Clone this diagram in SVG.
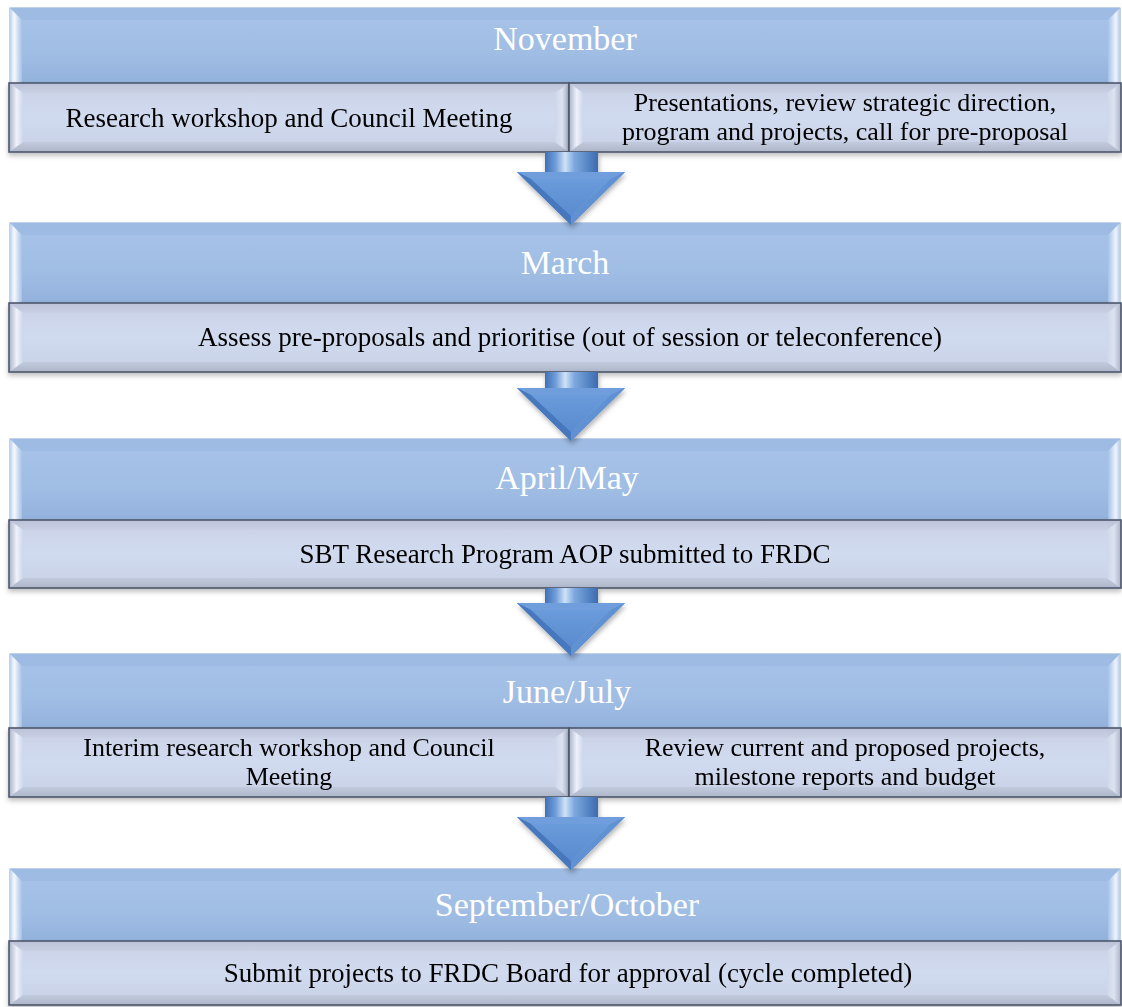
<svg xmlns="http://www.w3.org/2000/svg" width="1122" height="1007" viewBox="0 0 1122 1007">
<defs>
<linearGradient id="gTop" x1="0" y1="0" x2="0" y2="1">
<stop offset="0" stop-color="#a7c3e8"/><stop offset="0.6" stop-color="#a0bde4"/><stop offset="1" stop-color="#92b1dc"/>
</linearGradient>
<linearGradient id="gTopL" x1="0" y1="0" x2="1" y2="0">
<stop offset="0" stop-color="#bcd2ee"/><stop offset="0.35" stop-color="#f6f9fd"/><stop offset="1" stop-color="#a6c1e6"/>
</linearGradient>
<linearGradient id="gTopR" x1="0" y1="0" x2="1" y2="0">
<stop offset="0" stop-color="#a6c1e6"/><stop offset="0.65" stop-color="#eef4fb"/><stop offset="1" stop-color="#b6cced"/>
</linearGradient>
<linearGradient id="gBot" x1="0" y1="0" x2="0" y2="1">
<stop offset="0" stop-color="#c9d1e5"/><stop offset="0.5" stop-color="#d1dbef"/><stop offset="1" stop-color="#c7d0e4"/>
</linearGradient>
<linearGradient id="gBotT" x1="0" y1="0" x2="0" y2="1">
<stop offset="0" stop-color="#bcc3d8"/><stop offset="1" stop-color="#c9d0e4"/>
</linearGradient>
<linearGradient id="gBotB" x1="0" y1="0" x2="0" y2="1">
<stop offset="0" stop-color="#c2cadd"/><stop offset="1" stop-color="#aeb6ca"/>
</linearGradient>
<linearGradient id="gBotL" x1="0" y1="0" x2="1" y2="0">
<stop offset="0" stop-color="#a9b1c7"/><stop offset="0.55" stop-color="#eef2fa"/><stop offset="1" stop-color="#cdd6ea"/>
</linearGradient>
<linearGradient id="gBotR" x1="0" y1="0" x2="1" y2="0">
<stop offset="0" stop-color="#cdd6ea"/><stop offset="0.5" stop-color="#dde3f1"/><stop offset="1" stop-color="#aab2c7"/>
</linearGradient>
<linearGradient id="gShaft" x1="0" y1="0" x2="1" y2="0">
<stop offset="0" stop-color="#3f70b6"/><stop offset="0.2" stop-color="#6f9cd8"/><stop offset="0.38" stop-color="#cfe2f7"/><stop offset="0.55" stop-color="#7ea9df"/><stop offset="1" stop-color="#3b6bb0"/>
</linearGradient>
<linearGradient id="gHead" x1="0" y1="0" x2="0" y2="1">
<stop offset="0" stop-color="#6a9bda"/><stop offset="1" stop-color="#5a8bcf"/>
</linearGradient>
<filter id="sh" x="-5%" y="-20%" width="110%" height="150%">
<feDropShadow dx="0" dy="3" stdDeviation="2.5" flood-color="#000" flood-opacity="0.25"/>
</filter>
<filter id="ash" x="-30%" y="-30%" width="160%" height="160%">
<feDropShadow dx="1" dy="3" stdDeviation="2.5" flood-color="#000" flood-opacity="0.3"/>
</filter>
<g id="head">
<path d="M-54,-53 L54,-53 L0,0 Z" fill="#5586cb"/>
<path d="M-54,-53 L54,-53 L40,-46 L-40,-46 Z" fill="#6f9edc"/>
<path d="M-54,-53 L-40,-46 L0,-9 L0,0 Z" fill="#4677bd"/>
<path d="M54,-53 L40,-46 L0,-9 L0,0 Z" fill="#5f91d3"/>
<path d="M-40,-46 L40,-46 L0,-9 Z" fill="url(#gHead)"/>
<path d="M40,-46 L30,-37 L3,-12 L0,-9 Z" fill="#9cc0ee" opacity="0.8"/>
</g>
</defs>
<style>
.tb{fill:url(#gTop);stroke:#88a3cf;stroke-width:1}
.tbT{fill:#9ebbe3}
.tbL{fill:url(#gTopL)}
.tbR{fill:url(#gTopR)}
.bb{fill:url(#gBot)}
.bbT{fill:url(#gBotT)}
.bbB{fill:url(#gBotB)}
.bbL{fill:url(#gBotL)}
.bbR{fill:url(#gBotR)}
.bbo{fill:none;stroke:#4e576b;stroke-width:1.6}
.ttl{font-family:"Liberation Serif",serif;font-size:34px;fill:#ffffff;text-anchor:middle}
.txt{font-family:"Liberation Serif",serif;font-size:27px;fill:#000000;text-anchor:middle}
.txt2{font-family:"Liberation Serif",serif;font-size:26px;fill:#000000;text-anchor:middle}
</style>

<!-- Block 1: November -->
<g id="nov">
<rect class="tb" x="10" y="8" width="1110" height="76"/>
<polygon class="tbT" points="10,8 1120,8 1108,20 22,20"/>
<polygon class="tbL" points="10,8 22,20 22,84 10,84"/>
<polygon class="tbR" points="1120,8 1108,20 1108,84 1120,84"/>
<text class="ttl" x="565" y="50">November</text>
</g>
<g id="nov-a" filter="url(#sh)">
<rect class="bb" x="9" y="83" width="560" height="69"/>
<polygon class="bbT" points="9,83 569,83 555,93 23,93"/>
<polygon class="bbB" points="9,152 569,152 555,142 23,142"/>
<polygon class="bbL" points="9,83 23,93 23,142 9,152"/>
<polygon class="bbR" points="569,83 555,93 555,142 569,152"/>
<rect class="bbo" x="9" y="83" width="560" height="69"/>
<text class="txt" x="289" y="127">Research workshop and Council Meeting</text>
</g>
<g id="nov-b" filter="url(#sh)">
<rect class="bb" x="569" y="83" width="552" height="69"/>
<polygon class="bbT" points="569,83 1121,83 1107,93 583,93"/>
<polygon class="bbB" points="569,152 1121,152 1107,142 583,142"/>
<polygon class="bbL" points="569,83 583,93 583,142 569,152"/>
<polygon class="bbR" points="1121,83 1107,93 1107,142 1121,152"/>
<rect class="bbo" x="569" y="83" width="552" height="69"/>
<text class="txt2" x="845" y="111">Presentations, review strategic direction,</text>
<text class="txt2" x="845" y="140">program and projects, call for pre-proposal</text>
</g>

<!-- Block 2: March -->
<g id="mar">
<rect class="tb" x="10" y="223" width="1110" height="81"/>
<polygon class="tbT" points="10,223 1120,223 1108,235 22,235"/>
<polygon class="tbL" points="10,223 22,235 22,304 10,304"/>
<polygon class="tbR" points="1120,223 1108,235 1108,304 1120,304"/>
<text class="ttl" x="565" y="274">March</text>
</g>
<g id="mar-a" filter="url(#sh)">
<rect class="bb" x="9" y="303" width="1112" height="69"/>
<polygon class="bbT" points="9,303 1121,303 1107,313 23,313"/>
<polygon class="bbB" points="9,372 1121,372 1107,362 23,362"/>
<polygon class="bbL" points="9,303 23,313 23,362 9,372"/>
<polygon class="bbR" points="1121,303 1107,313 1107,362 1121,372"/>
<rect class="bbo" x="9" y="303" width="1112" height="69"/>
<text class="txt" x="570" y="346">Assess pre-proposals and prioritise (out of session or teleconference)</text>
</g>

<!-- Block 3: April/May -->
<g id="apr">
<rect class="tb" x="10" y="439" width="1110" height="82"/>
<polygon class="tbT" points="10,439 1120,439 1108,451 22,451"/>
<polygon class="tbL" points="10,439 22,451 22,521 10,521"/>
<polygon class="tbR" points="1120,439 1108,451 1108,521 1120,521"/>
<text class="ttl" x="567" y="489">April/May</text>
</g>
<g id="apr-a" filter="url(#sh)">
<rect class="bb" x="9" y="520" width="1112" height="68"/>
<polygon class="bbT" points="9,520 1121,520 1107,530 23,530"/>
<polygon class="bbB" points="9,588 1121,588 1107,578 23,578"/>
<polygon class="bbL" points="9,520 23,530 23,578 9,588"/>
<polygon class="bbR" points="1121,520 1107,530 1107,578 1121,588"/>
<rect class="bbo" x="9" y="520" width="1112" height="68"/>
<text class="txt" x="565" y="563">SBT Research Program AOP submitted to FRDC</text>
</g>

<!-- Block 4: June/July -->
<g id="jun">
<rect class="tb" x="10" y="654" width="1110" height="75"/>
<polygon class="tbT" points="10,654 1120,654 1108,666 22,666"/>
<polygon class="tbL" points="10,654 22,666 22,729 10,729"/>
<polygon class="tbR" points="1120,654 1108,666 1108,729 1120,729"/>
<text class="ttl" x="567" y="703">June/July</text>
</g>
<g id="jun-a" filter="url(#sh)">
<rect class="bb" x="9" y="728" width="560" height="69"/>
<polygon class="bbT" points="9,728 569,728 555,738 23,738"/>
<polygon class="bbB" points="9,797 569,797 555,787 23,787"/>
<polygon class="bbL" points="9,728 23,738 23,787 9,797"/>
<polygon class="bbR" points="569,728 555,738 555,787 569,797"/>
<rect class="bbo" x="9" y="728" width="560" height="69"/>
<text class="txt2" x="289" y="756">Interim research workshop and Council</text>
<text class="txt2" x="289" y="785">Meeting</text>
</g>
<g id="jun-b" filter="url(#sh)">
<rect class="bb" x="569" y="728" width="552" height="69"/>
<polygon class="bbT" points="569,728 1121,728 1107,738 583,738"/>
<polygon class="bbB" points="569,797 1121,797 1107,787 583,787"/>
<polygon class="bbL" points="569,728 583,738 583,787 569,797"/>
<polygon class="bbR" points="1121,728 1107,738 1107,787 1121,797"/>
<rect class="bbo" x="569" y="728" width="552" height="69"/>
<text class="txt2" x="845" y="756">Review current and proposed projects,</text>
<text class="txt2" x="845" y="785">milestone reports and budget</text>
</g>

<!-- Block 5: September/October -->
<g id="sep">
<rect class="tb" x="10" y="869" width="1110" height="73"/>
<polygon class="tbT" points="10,869 1120,869 1108,881 22,881"/>
<polygon class="tbL" points="10,869 22,881 22,942 10,942"/>
<polygon class="tbR" points="1120,869 1108,881 1108,942 1120,942"/>
<text class="ttl" x="567" y="916">September/October</text>
</g>
<g id="sep-a" filter="url(#sh)">
<rect class="bb" x="9" y="941" width="1112" height="64"/>
<polygon class="bbT" points="9,941 1121,941 1107,951 23,951"/>
<polygon class="bbB" points="9,1005 1121,1005 1107,995 23,995"/>
<polygon class="bbL" points="9,941 23,951 23,995 9,1005"/>
<polygon class="bbR" points="1121,941 1107,951 1107,995 1121,1005"/>
<rect class="bbo" x="9" y="941" width="1112" height="64"/>
<text class="txt" x="568" y="982">Submit projects to FRDC Board for approval (cycle completed)</text>
</g>

<!-- Connectors -->
<g id="connectors" filter="url(#ash)">
<g transform="translate(571,225)">
<rect x="-26" y="-73" width="53" height="21" fill="url(#gShaft)"/>
<use href="#head"/>
</g>
<g transform="translate(571,441)">
<rect x="-26" y="-69" width="53" height="17" fill="url(#gShaft)"/>
<use href="#head"/>
</g>
<g transform="translate(571,656)">
<rect x="-26" y="-68" width="53" height="16" fill="url(#gShaft)"/>
<use href="#head"/>
</g>
<g transform="translate(571,870)">
<rect x="-26" y="-73" width="53" height="21" fill="url(#gShaft)"/>
<use href="#head"/>
</g>
</g>
</svg>
